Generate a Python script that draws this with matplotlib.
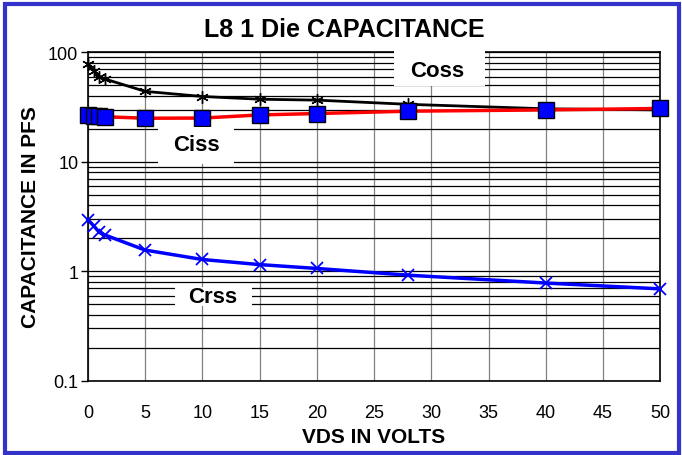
import numpy as np
import matplotlib.pyplot as plt
from matplotlib.patches import Rectangle
from matplotlib.ticker import FixedLocator, NullFormatter, FixedFormatter

plt.rcParams["font.family"] = ["Liberation Sans", "DejaVu Sans"]

# values
vds = [0, 0.5, 1, 1.5, 5, 10, 15, 20, 28, 40, 50]
ciss = [26.5, 26.2, 26.0, 25.8, 25.0, 25.1, 26.8, 27.6, 29.0, 29.8, 30.7]
coss = [78, 68, 60, 57, 44, 39.5, 37.3, 36.6, 33.5, 30.5, 29.8]
crss = [2.95, 2.6, 2.26, 2.14, 1.56, 1.28, 1.15, 1.06, 0.92, 0.78, 0.69]

y_ticks = [0.1, 1, 10, 100]
y_tick_labels = ["0.1", "1", "10", "100"]
x_ticks = list(range(0, 55, 5))

fig = plt.figure(figsize=(6.82, 4.56), dpi=100)
ax = fig.add_axes([0.129, 0.163, 0.839, 0.72])

ax.set_yscale("log")
ax.set_xlim(0, 50)
ax.set_ylim(0.1, 100)

# gridlines: gray verticals every 5 V, black log minors horizontally
ax.yaxis.set_major_locator(FixedLocator(y_ticks))
ax.yaxis.set_major_formatter(FixedFormatter(y_tick_labels))
minors = [m * d for d in (0.1, 1, 10) for m in range(2, 10)]
ax.yaxis.set_minor_locator(FixedLocator(minors))
ax.yaxis.set_minor_formatter(NullFormatter())
ax.set_xticks(x_ticks)
ax.grid(True, which="major", axis="x", color="#808080", lw=0.9)
ax.grid(True, which="both", axis="y", color="black", lw=0.9)
ax.tick_params(axis="y", which="major", direction="out", length=5, width=1, labelsize=13, pad=2)
ax.tick_params(axis="y", which="minor", length=0)
ax.tick_params(axis="x", length=0, labelsize=13, pad=17)
for s in ax.spines.values():
    s.set_color("black")
    s.set_linewidth(1.2)

ax.plot(vds, coss, color="black", lw=2, marker=(6, 2, 0), ms=9, mew=1,
        mec="black", zorder=4, clip_on=False)
ax.plot(vds, ciss, color="red", lw=2.5, marker="s", ms=11, mfc="#0000FF",
        mec="black", mew=1, zorder=5, clip_on=False)
ax.plot(vds, crss, color="#0000FF", lw=2.5, marker="x", ms=8, mew=1.3,
        zorder=4, clip_on=False)

# white label boxes, they sit over the grid like in the original
labels = [("Coss", 0.535, 0.897, 0.159, 0.143, 0.61, 0.946),
          ("Ciss", 0.122, 0.66, 0.133, 0.113, 0.189, 0.72),
          ("Crss", 0.152, 0.227, 0.135, 0.058, 0.218, 0.255)]
for txt, rx, ry, rw, rh, tx, ty in labels:
    ax.add_patch(Rectangle((rx, ry), rw, rh, transform=ax.transAxes,
                           facecolor="white", edgecolor="none", zorder=6, clip_on=False))
    ax.text(tx, ty, txt, transform=ax.transAxes, ha="center", va="center",
            fontsize=16, fontweight="bold", zorder=7)

fig.text(0.505, 0.934, "L8 1 Die CAPACITANCE", ha="center", va="center",
         fontsize=18, fontweight="bold", zorder=10)
ax.set_xlabel("VDS IN VOLTS", fontsize=15, fontweight="bold", labelpad=4)
ax.set_ylabel("CAPACITANCE IN PFS", fontsize=15, fontweight="bold", labelpad=6)

# blue frame round the whole chart
fig.patches.append(Rectangle((5, 2), 674, 449, transform=None, fill=False,
                             edgecolor="#3333CC", lw=3))

fig.savefig("out.png", dpi=100)
